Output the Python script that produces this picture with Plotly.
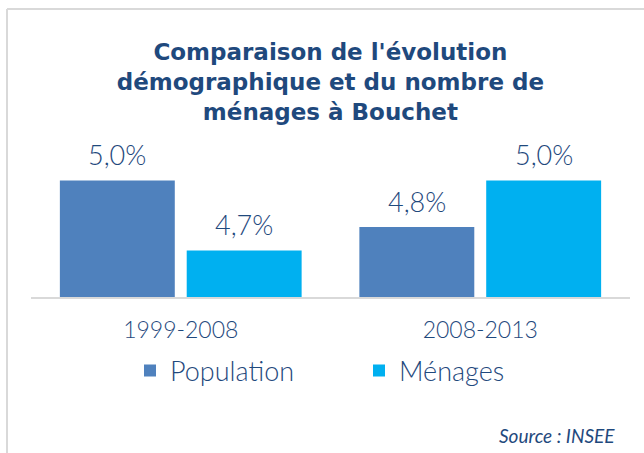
import plotly.graph_objects as go

# Data
periods = ["1999-2008", "2008-2013"]
series_names = ["Population", "Ménages"]
population = [5.0, 4.8]
menages = [4.7, 5.0]
title_lines = ["Comparaison de l'évolution", "démographique et du nombre de", "ménages à Bouchet"]
source_text = "Source : INSEE"

# Styling
colors = ["#4F81BD", "#00B0F0"]
text_color = "#1F497D"
grid_gray = "#D9D9D9"
W, H = 644, 453
ml, mr, mt, mb = 31, 14, 130, 156
y_range = [4.5, 5.2167]
plot_w = W - ml - mr
plot_h = H - mt - mb
bargap = 0.153


def px_x(p):
    return (p - ml) / plot_w


def px_y(p):
    return (H - mb - p) / plot_h


fig = go.Figure()
for name, vals, col in zip(series_names, [population, menages], colors):
    fig.add_trace(go.Bar(
        x=periods, y=vals, name=name,
        marker=dict(color=col, line=dict(width=0)),
    ))

# value labels above each bar
n = len(series_names)
slot_px = plot_w / len(periods) * (1 - bargap) / n
annotations = []
for i, vals in enumerate([population, menages]):
    for j, v in enumerate(vals):
        annotations.append(dict(
            x=periods[j], y=v, xref="x", yref="y",
            text=f"{v:.1f}%".replace(".", ","),
            showarrow=False, yanchor="bottom",
            xshift=(i - (n - 1) / 2) * slot_px, yshift=7,
            font=dict(family="Lato", size=27, color=text_color, weight=300),
        ))

annotations.append(dict(
    x=px_x(617), y=px_y(435), xref="paper", yref="paper",
    text=source_text, showarrow=False, xanchor="right", yanchor="middle",
    font=dict(family="Lato", size=19, color=text_color, style="italic", weight=400),
))

shapes = [
    dict(type="line", xref="paper", yref="paper", x0=px_x(7), x1=px_x(7), y0=px_y(9), y1=px_y(H + 5),
         line=dict(color=grid_gray, width=2)),
    dict(type="line", xref="paper", yref="paper", x0=px_x(7), x1=px_x(W + 5), y0=px_y(9), y1=px_y(9),
         line=dict(color=grid_gray, width=2)),
]

fig.update_layout(
    width=W, height=H,
    margin=dict(l=ml, r=mr, t=mt, b=mb, pad=0, autoexpand=False),
    paper_bgcolor="white", plot_bgcolor="white",
    barmode="group", bargap=bargap, bargroupgap=0.094,
    title=dict(
        text="<b>" + "<br>".join(title_lines) + "</b>",
        x=0.513, xanchor="center", y=1 - 60 / H, yanchor="top",
        font=dict(family="DejaVu Sans", size=23, color=text_color),
    ),
    xaxis=dict(
        showline=True, linecolor=grid_gray, linewidth=2,
        showgrid=False, ticks="", ticklabelstandoff=11, automargin=False,
        tickfont=dict(family="Lato", size=23, color=text_color, weight=300),
    ),
    yaxis=dict(range=y_range, visible=False, showgrid=False, zeroline=False, automargin=False),
    legend=dict(
        orientation="h", x=px_x(130), xanchor="left",
        y=1 - 371 / H, yref="container", yanchor="middle",
        font=dict(family="Lato", size=27, color=text_color, weight=300),
        entrywidth=184, itemwidth=30,
    ),
    annotations=annotations,
    shapes=shapes,
    showlegend=True,
)

fig.write_html("out.html")
